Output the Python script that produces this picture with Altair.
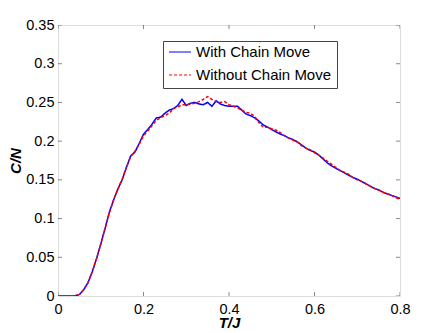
import altair as alt
import pandas as pd

T = [0.00, 0.01, 0.02, 0.03, 0.04, 0.05, 0.06, 0.07, 0.08, 0.09,
     0.10, 0.11, 0.12, 0.13, 0.14, 0.15, 0.16, 0.17, 0.18, 0.19,
     0.20, 0.21, 0.22, 0.23, 0.24, 0.25, 0.26, 0.27, 0.28, 0.29,
     0.30, 0.31, 0.32, 0.33, 0.34, 0.35, 0.36, 0.37, 0.38, 0.39,
     0.40, 0.41, 0.42, 0.43, 0.44, 0.45, 0.46, 0.47, 0.48, 0.49,
     0.50, 0.51, 0.52, 0.53, 0.54, 0.55, 0.56, 0.57, 0.58, 0.59,
     0.60, 0.61, 0.62, 0.63, 0.64, 0.65, 0.66, 0.67, 0.68, 0.69,
     0.70, 0.71, 0.72, 0.73, 0.74, 0.75, 0.76, 0.77, 0.78, 0.79, 0.80]

with_chain = [0.000, 0.000, 0.000, 0.000, 0.0003, 0.002, 0.008, 0.017, 0.031, 0.048,
              0.067, 0.087, 0.108, 0.124, 0.138, 0.150, 0.166, 0.181, 0.186, 0.197,
              0.209, 0.215, 0.222, 0.230, 0.231, 0.236, 0.240, 0.242, 0.246, 0.254,
              0.246, 0.249, 0.250, 0.248, 0.247, 0.250, 0.245, 0.252, 0.248, 0.246,
              0.245, 0.245, 0.245, 0.240, 0.235, 0.233, 0.230, 0.226, 0.221, 0.218,
              0.215, 0.212, 0.209, 0.207, 0.204, 0.202, 0.199, 0.195, 0.191, 0.188,
              0.186, 0.182, 0.177, 0.172, 0.168, 0.165, 0.162, 0.159, 0.156, 0.153,
              0.151, 0.148, 0.145, 0.142, 0.139, 0.137, 0.134, 0.132, 0.130, 0.128, 0.126]

without_chain = [0.000, 0.000, 0.000, 0.000, 0.0003, 0.002, 0.008, 0.017, 0.031, 0.048,
                 0.067, 0.087, 0.107, 0.124, 0.138, 0.151, 0.166, 0.180, 0.187, 0.196,
                 0.207, 0.213, 0.220, 0.227, 0.230, 0.233, 0.236, 0.242, 0.244, 0.247,
                 0.247, 0.248, 0.249, 0.251, 0.254, 0.2575, 0.254, 0.251, 0.250, 0.251,
                 0.247, 0.245, 0.243, 0.240, 0.237, 0.236, 0.232, 0.224, 0.218, 0.218,
                 0.216, 0.214, 0.211, 0.207, 0.204, 0.201, 0.199, 0.194, 0.191, 0.189,
                 0.185, 0.182, 0.178, 0.174, 0.170, 0.166, 0.162, 0.160, 0.157, 0.153,
                 0.150, 0.148, 0.145, 0.142, 0.139, 0.137, 0.134, 0.132, 0.130, 0.127, 0.125]

series_names = ["With Chain Move", "Without Chain Move"]
x_ticks = [0, 0.2, 0.4, 0.6, 0.8]
y_ticks = [0, 0.05, 0.1, 0.15, 0.2, 0.25, 0.3, 0.35]

rows = []
for name, vals in zip(series_names, [with_chain, without_chain]):
    for t, v in zip(T, vals):
        rows.append({"T": t, "CN": v, "series": name})
df = pd.DataFrame(rows)

FONT = "Liberation Sans"
W, H = 342, 271

xscale = alt.Scale(domain=[0, 0.8], nice=False, zero=False)
yscale = alt.Scale(domain=[0, 0.35], nice=False, zero=False)

xaxis = alt.Axis(title="T/J", values=x_ticks, ticks=False, domain=False, grid=False,
                 labelFontSize=14.5, labelPadding=6, labelColor="#000",
                 labelOverlap=False, labelFlush=False, format="~g",
                 titleFontSize=15, titleFontStyle="italic", titleFontWeight="bold",
                 titleColor="#000", titleBaseline="alphabetic", titleY=31)
yaxis = alt.Axis(title="C/N", values=y_ticks, ticks=False, domain=False, grid=False,
                 labelFontSize=14.5, labelPadding=4, labelColor="#000",
                 labelOverlap=False, labelFlush=False, format="~g",
                 titleFontSize=15, titleFontStyle="italic", titleFontWeight="bold",
                 titleColor="#000", titleBaseline="alphabetic", titleX=-38)

legend_kw = dict(title=None, orient="none", legendX=105, legendY=16,
                 symbolType="stroke", symbolSize=484, symbolStrokeWidth=1.2,
                 clipHeight=12, labelFontSize=15, labelFont=FONT, labelOffset=4,
                 labelColor="#000", padding=5, rowPadding=8, strokeColor="#444",
                 fillColor="white")

lines = alt.Chart(df).mark_line(strokeWidth=1.5, clip=True).encode(
    x=alt.X("T:Q", scale=xscale, axis=xaxis),
    y=alt.Y("CN:Q", scale=yscale, axis=yaxis),
    color=alt.Color("series:N",
                    scale=alt.Scale(domain=series_names, range=["#0000ff", "#ff0000"]),
                    legend=alt.Legend(**legend_kw)),
    strokeDash=alt.StrokeDash("series:N",
                              scale=alt.Scale(domain=series_names, range=[[1, 0], [3, 2]]),
                              legend=alt.Legend(**legend_kw)),
)

xt = pd.DataFrame({"T": x_ticks})
yt = pd.DataFrame({"CN": y_ticks})

tick_bottom = alt.Chart(xt).mark_tick(size=8, thickness=1, color="#555", clip=True).encode(
    x=alt.X("T:Q", scale=xscale, axis=xaxis), y=alt.value(H))
tick_top = alt.Chart(xt).mark_tick(size=8, thickness=1, color="#555", clip=True).encode(
    x=alt.X("T:Q", scale=xscale, axis=xaxis), y=alt.value(0))
tick_left = alt.Chart(yt).mark_tick(size=8, thickness=1, color="#555", clip=True).encode(
    y=alt.Y("CN:Q", scale=yscale, axis=yaxis), x=alt.value(0))
tick_right = alt.Chart(yt).mark_tick(size=8, thickness=1, color="#555", clip=True).encode(
    y=alt.Y("CN:Q", scale=yscale, axis=yaxis), x=alt.value(W))

chart = alt.layer(lines, tick_bottom, tick_top, tick_left, tick_right).properties(
    width=W, height=H,
    autosize=alt.AutoSizeParams(type="none"),
    padding={"left": 50, "top": 17, "right": 35, "bottom": 37},
    background="white",
).configure_view(stroke="#222", strokeWidth=1).configure(font=FONT)

chart.save("out.html", embed_options={"renderer": "svg", "actions": False})
